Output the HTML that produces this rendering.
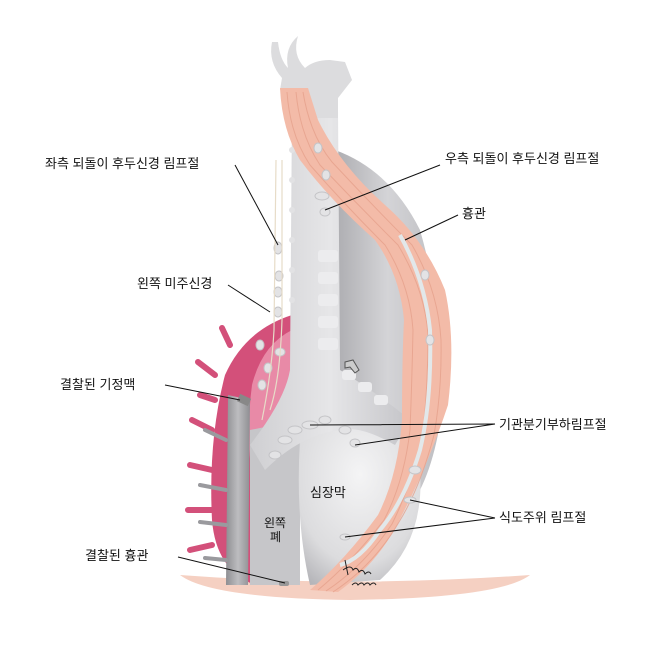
<!DOCTYPE html>
<html><head><meta charset="utf-8"><style>
html,body{margin:0;padding:0;background:#fff;}
svg{display:block;}
text{font-family:"Liberation Sans","Noto Sans CJK KR",sans-serif;font-size:13px;fill:#111;}
</style></head><body>
<svg width="670" height="645" viewBox="0 0 670 645" xmlns="http://www.w3.org/2000/svg">
<defs>
<linearGradient id="lung" x1="0" x2="1"><stop offset="0" stop-color="#a9a9ad"/><stop offset="0.5" stop-color="#d4d4d7"/><stop offset="1" stop-color="#bcbcc0"/></linearGradient>
<radialGradient id="heart" cx="0.5" cy="0.35" r="0.75"><stop offset="0" stop-color="#f4f4f5"/><stop offset="0.7" stop-color="#dcdcde"/><stop offset="1" stop-color="#b5b5b9"/></radialGradient>
<linearGradient id="trach" x1="0" x2="1"><stop offset="0" stop-color="#cfcfd2"/><stop offset="0.5" stop-color="#e6e6e8"/><stop offset="1" stop-color="#c4c4c8"/></linearGradient>
<linearGradient id="pinkv" x1="0" x2="1"><stop offset="0" stop-color="#8e8e92"/><stop offset="0.5" stop-color="#bdbdc0"/><stop offset="1" stop-color="#8e8e92"/></linearGradient>
</defs>
<path d="M180 575 Q350 588 530 575 Q500 598 350 600 Q210 598 180 575Z" fill="#f5d0c2"/>
<path d="M335 150 Q390 170 420 230 Q440 300 445 380 Q440 450 420 490 L340 470 L330 300Z" fill="url(#lung)"/>
<path d="M292 315 Q245 330 225 375 Q208 440 212 520 Q216 570 255 585 L300 585 L300 330Z" fill="#d3507a"/>
<path d="M292 330 Q262 345 252 385 Q246 430 252 480 L292 470Z" fill="#e88aa7"/>
<g stroke="#d3507a" stroke-width="6" stroke-linecap="round">
<path d="M230 345 L222 328 M215 375 L198 362 M212 430 L192 420 M212 470 L190 465 M212 510 L188 510 M212 545 L190 550 M215 400 L200 395"/>
</g>
<path d="M228 395 L226 585 L248 585 L250 400Z" fill="url(#pinkv)"/>
<g stroke="#9a9a9e" stroke-width="4" stroke-linecap="round"><path d="M226 440 L205 430 M226 490 L200 485 M226 525 L200 522 M226 560 L205 558"/></g>
<path d="M250 430 L300 420 L300 585 L250 585Z" fill="#c6c6c9"/>
<path d="M300 440 Q300 420 350 415 Q410 420 420 470 Q425 540 380 580 L310 585 Q295 520 300 440Z" fill="url(#heart)"/>
<path d="M292 110 L338 110 L340 370 Q380 395 410 420 L395 445 Q360 425 340 430 Q300 435 265 470 L250 445 Q285 400 290 370Z" fill="url(#trach)"/>
<g fill="#ececee">
<rect x="318" y="250" width="20" height="12" rx="3"/><rect x="318" y="272" width="20" height="12" rx="3"/><rect x="318" y="294" width="20" height="12" rx="3"/><rect x="318" y="316" width="20" height="12" rx="3"/><rect x="318" y="338" width="20" height="12" rx="3"/>
<rect x="342" y="370" width="14" height="10" rx="3"/><rect x="358" y="382" width="14" height="10" rx="3"/><rect x="374" y="395" width="14" height="10" rx="3"/>
</g>
<g fill="#e2e2e4"><circle cx="292" cy="150" r="3"/><circle cx="292" cy="180" r="3"/><circle cx="292" cy="210" r="3"/><circle cx="292" cy="240" r="3"/><circle cx="292" cy="270" r="3"/><circle cx="292" cy="300" r="3"/></g>
<!-- larynx -->
<path d="M272 42 Q268 62 282 78 L280 90 L304 92 L302 118 L338 118 L338 98 L352 80 L345 62 L330 60 Q314 60 305 68 Q292 55 298 36 Q284 48 288 68 Q280 60 278 42Z" fill="#dcdcde"/>
<!-- esophagus -->
<path d="M280 88 Q282 130 300 160 Q330 200 375 240 Q400 275 404 320 Q402 360 402 420 Q398 475 378 515 Q345 560 310 590 L338 592 Q380 562 402 515 Q428 465 448 405 Q456 340 445 290 Q425 240 385 205 Q340 165 318 120 L308 88Z" fill="#f3bba8"/>
<g stroke="#e6a18c" stroke-width="1" fill="none" opacity="0.8">
<path d="M287 92 Q290 135 310 165 Q345 205 385 245 Q410 285 413 330 Q412 380 410 430 Q404 482 384 520 Q352 562 318 590"/>
<path d="M296 92 Q300 135 320 165 Q358 205 398 245 Q425 290 428 335 Q428 390 422 440 Q410 488 392 524 Q364 566 326 591"/>
<path d="M303 92 Q310 135 332 162 Q372 205 412 245 Q438 290 441 340 Q442 390 434 435 Q420 488 399 522 Q374 565 333 592"/>
</g>
<path d="M400 235 Q425 280 430 330 Q432 400 420 450 Q405 500 380 530 Q360 560 340 565" stroke="#e2e8ea" stroke-width="4" fill="none"/>
<g fill="#e3e3e5" stroke="#c4c4c7">
<ellipse cx="318" cy="148" rx="4" ry="5"/><ellipse cx="326" cy="175" rx="4" ry="5"/><ellipse cx="322" cy="196" rx="7" ry="4"/><ellipse cx="325" cy="212" rx="5" ry="4"/>
<ellipse cx="278" cy="248" rx="4" ry="6"/><ellipse cx="279" cy="276" rx="4" ry="5"/><ellipse cx="278" cy="292" rx="4" ry="5"/><ellipse cx="278" cy="312" rx="4" ry="5"/>
<ellipse cx="260" cy="345" rx="4" ry="5"/><ellipse cx="262" cy="385" rx="4" ry="5"/><ellipse cx="280" cy="352" rx="5" ry="4"/><ellipse cx="268" cy="368" rx="4" ry="5"/>
<ellipse cx="310" cy="425" rx="8" ry="4"/><ellipse cx="295" cy="430" rx="7" ry="4"/><ellipse cx="285" cy="440" rx="7" ry="4"/><ellipse cx="275" cy="455" rx="6" ry="4"/><ellipse cx="325" cy="420" rx="6" ry="4"/>
<ellipse cx="355" cy="443" rx="5" ry="4"/><ellipse cx="345" cy="430" rx="6" ry="4"/>
<ellipse cx="410" cy="500" rx="6" ry="3"/><ellipse cx="345" cy="537" rx="5" ry="3"/><ellipse cx="425" cy="275" rx="4" ry="5"/><ellipse cx="430" cy="340" rx="4" ry="5"/><ellipse cx="415" cy="470" rx="6" ry="4"/>
</g>
<path d="M276 160 L274 330 Q272 370 262 420 M282 160 L282 320 Q280 380 270 410" stroke="#e7dcc8" stroke-width="1.2" fill="none"/>
<rect x="238" y="396" width="12" height="8" fill="#888" transform="rotate(25 244 400)"/>
<path d="M345 362 l8 -2 l6 10 l-4 3 l-5 -6 l-5 1Z" fill="#ccc" stroke="#555"/>
<rect x="279" y="581" width="10" height="5" fill="#999" rx="2"/>
<path d="M345 560 l3 15 M343 570 q8 -6 10 0 q4 -4 6 2 q4 -4 6 2 q4 -4 6 0 M352 585 q4 -4 6 0 q4 -4 6 0 q4 -4 6 0 q4 -4 6 0" stroke="#222" fill="none" stroke-width="1"/>
<g stroke="#111" stroke-width="1" fill="none">
<path d="M235 165 L278 245"/>
<path d="M440 165 L325 210"/>
<path d="M458 215 L405 240"/>
<path d="M228 285 L270 312"/>
<path d="M165 385 L240 400"/>
<path d="M495 424 L310 425 M495 424 L355 445"/>
<path d="M495 518 L410 500 M495 518 L345 537"/>
<path d="M178 557 L285 583"/>
</g>
<text x="45" y="168">좌측 되돌이 후두신경 림프절</text>
<text x="445" y="163">우측 되돌이 후두신경 림프절</text>
<text x="462" y="218">흉관</text>
<text x="137" y="288">왼쪽 미주신경</text>
<text x="60" y="389">결찰된 기정맥</text>
<text x="499" y="429">기관분기부하림프절</text>
<text x="310" y="497">심장막</text>
<text x="264" y="527" style="font-size:12px">왼쪽</text>
<text x="270" y="541" style="font-size:12px">폐</text>
<text x="499" y="522">식도주위 림프절</text>
<text x="85" y="560">결찰된 흉관</text>
</svg>
</body></html>
